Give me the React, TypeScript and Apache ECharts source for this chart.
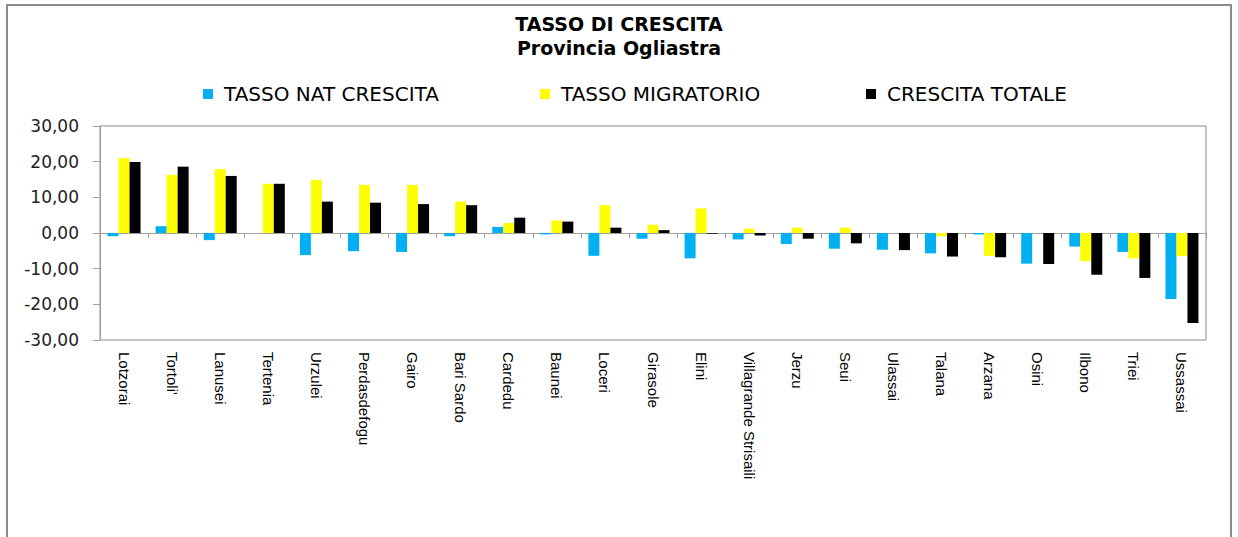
import React, { useEffect, useRef } from "react";
import * as echarts from "echarts";

const categories = [
  "Lotzorai", "Tortoli'", "Lanusei", "Tertenia", "Urzulei", "Perdasdefogu", "Gairo",
  "Bari Sardo", "Cardedu", "Baunei", "Loceri", "Girasole", "Elini", "Villagrande Strisaili",
  "Jerzu", "Seui", "Ulassai", "Talana", "Arzana", "Osini", "Ilbono", "Triei", "Ussassai",
];
const tassoNat = [-0.9, 1.9, -2.0, 0, -6.2, -5.1, -5.3, -0.9, 1.7, -0.4, -6.4, -1.6, -7.1, -1.8, -3.1, -4.4, -4.7, -5.7, -0.4, -8.6, -3.8, -5.3, -18.5];
const tassoMig = [21.0, 16.3, 17.9, 13.8, 14.9, 13.5, 13.5, 8.8, 2.8, 3.5, 7.8, 2.3, 6.9, 1.2, 1.5, 1.5, 0, -0.9, -6.4, 0, -7.9, -7.1, -6.5];
const crescitaTot = [19.9, 18.6, 16.0, 13.8, 8.8, 8.5, 8.1, 7.8, 4.3, 3.2, 1.5, 0.8, -0.2, -0.7, -1.6, -2.9, -4.8, -6.6, -6.8, -8.7, -11.7, -12.6, -25.2];
const seriesNames = ["TASSO NAT CRESCITA", "TASSO MIGRATORIO", "CRESCITA TOTALE"];
const seriesColors = ["#00B0F0", "#FFFF00", "#000000"];
const legendLefts = [198, 535, 861];
const titleLines = ["TASSO DI CRESCITA", "Provincia Ogliastra"];
const titleTops = [14, 38];

export default function App() {
  const ref = useRef<HTMLDivElement>(null);
  useEffect(() => {
    if (!ref.current) return;
    const chart = echarts.init(ref.current, undefined, { renderer: "svg" });
    const values = [tassoNat, tassoMig, crescitaTot];
    chart.setOption({
      animation: false,
      backgroundColor: "#ffffff",
      title: titleLines.map((t, i) => ({
        text: t,
        left: "center",
        top: titleTops[i],
        padding: 0,
        textStyle: {
          fontFamily: "DejaVu Sans",
          fontWeight: "bold",
          fontSize: 19,
          lineHeight: 20,
          color: "#000",
        },
      })),
      legend: seriesNames.map((name, i) => ({
        data: [name],
        left: legendLefts[i],
        top: 79,
        itemWidth: 10,
        itemHeight: 10,
        icon: "rect",
        textStyle: {
          fontFamily: "DejaVu Sans",
          fontSize: 20,
          color: "#000",
          padding: [0, 0, 0, 6],
        },
      })),
      grid: {
        left: 100,
        right: 32,
        top: 126,
        bottom: 197,
        show: true,
        borderColor: "#8a8a8a",
        borderWidth: 1,
        backgroundColor: "transparent",
      },
      xAxis: [
        {
          type: "category",
          data: categories,
          axisLine: { onZero: true, lineStyle: { color: "#a0a0a0", width: 1 } },
          axisTick: { show: true, length: 5, interval: 0, lineStyle: { color: "#a0a0a0" } },
          axisLabel: { show: false },
          splitLine: { show: false },
        },
        {
          type: "category",
          data: categories,
          position: "bottom",
          axisLine: { show: false, onZero: false },
          axisTick: { show: false },
          axisLabel: {
            show: true,
            interval: 0,
            rotate: -90,
            margin: 12,
            fontFamily: "Liberation Sans",
            fontSize: 15,
            color: "#000",
          },
        },
      ],
      yAxis: {
        type: "value",
        min: -30,
        max: 30,
        interval: 10,
        axisLine: { show: true, lineStyle: { color: "#a0a0a0" } },
        axisTick: { show: true, length: 7, lineStyle: { color: "#a0a0a0" } },
        splitLine: { show: false },
        axisLabel: {
          margin: 21,
          fontFamily: "DejaVu Sans",
          fontSize: 17,
          color: "#222",
          formatter: (v: number) => v.toFixed(2).replace(".", ","),
        },
      },
      series: seriesNames.map((name, i) => ({
        name,
        type: "bar",
        xAxisIndex: 0,
        data: values[i],
        barWidth: 11,
        barGap: "0%",
        itemStyle: { color: seriesColors[i] },
      })),
      graphic: [
        {
          type: "rect",
          shape: { x: 7, y: 5, width: 1224, height: 540 },
          style: { fill: "none", stroke: "#8c8c8c", lineWidth: 2 },
          silent: true,
        },
      ],
    });
    return () => chart.dispose();
  }, []);
  return (
    <div
      ref={ref}
      style={{ position: "fixed", left: 0, top: 0, width: 1238, height: 537, background: "#fff" }}
    />
  );
}
